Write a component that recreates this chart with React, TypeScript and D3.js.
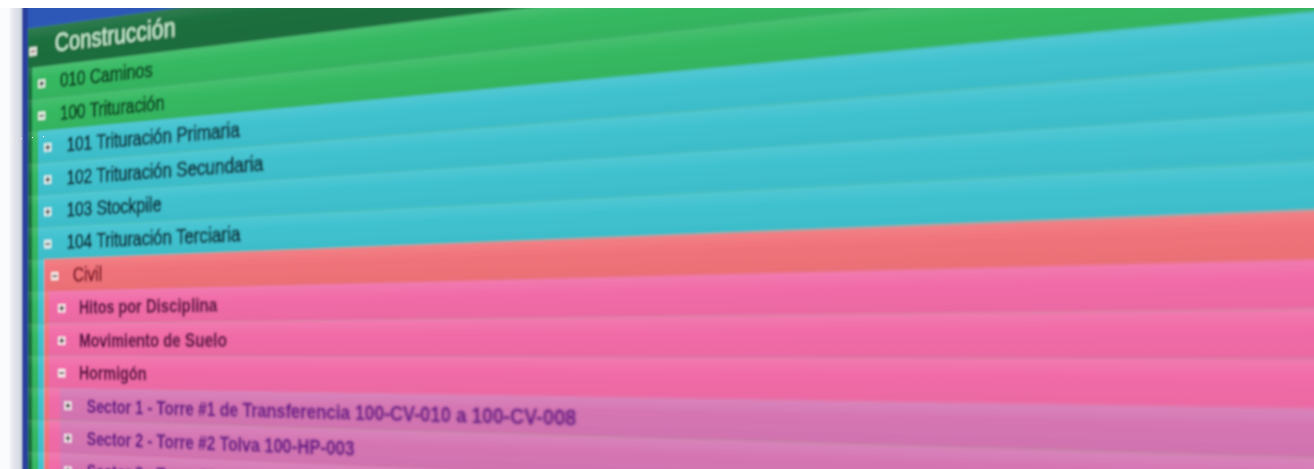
import { useEffect, useRef } from 'react';
import * as d3 from 'd3';

// Tree rows as seen on the screen (top to bottom)
const rowLabels = [
  'Construcción',
  '010 Caminos',
  '100 Trituración',
  '101 Trituración Primaria',
  '102 Trituración Secundaria',
  '103 Stockpile',
  '104 Trituración Terciaria',
  'Civil',
  'Hitos por Disciplina',
  'Movimiento de Suelo',
  'Hormigón',
  'Sector 1 - Torre #1 de Transferencia 100-CV-010 a 100-CV-008',
  'Sector 2 - Torre #2 Tolva 100-HP-003',
  'Sector 3 - Torre #3',
];
const rowDepth = [0, 1, 1, 2, 2, 2, 2, 3, 4, 4, 4, 5, 5, 5];
const rowOpen = [true, false, true, false, false, false, true, true, false, false, true, false, false, false];

const W = 1314;
const H = 469;

// the photo looks at the screen from the right: plane turned about a vertical axis
const OX = 60;
const OY = 350;
const VANISH_X = -2300;
const COS = 0.88;
const THETA = Math.acos(COS);
const PERSP = (OX - VANISH_X) * Math.tan(THETA);

const PAD = 120;
const FLAT_W = 1150;
const FLAT_H = 520;

const depthFill = ['#1b6f3e', '#36b962', '#40c2cf', '#f0737a', '#f16ca8', '#d576b3'];
const depthText = ['#c6ead0', '#0a3d1f', '#0b2631', '#7a0f23', '#560b40', '#681786'];
const depthIndent = [23, 28, 35, 42, 47.5, 60];
const iconX = [29, 39, 46, 54, 62, 69];
const textX = [54, 60, 67.5, 74.5, 81.5, 90];

export default function App() {
  const svgRef = useRef<SVGSVGElement>(null);

  useEffect(() => {
    if (!svgRef.current) return;
    const svg = d3.select(svgRef.current);
    svg.selectAll('*').remove();

    const defs = svg.append('defs');
    defs
      .append('filter')
      .attr('id', 'soft')
      .attr('x', '-2%')
      .attr('y', '-2%')
      .attr('width', '104%')
      .attr('height', '104%')
      .append('feGaussianBlur')
      .attr('stdDeviation', 0.8);

    depthFill.forEach((c, l) => {
      const g = defs
        .append('linearGradient')
        .attr('id', `row${l}`)
        .attr('x1', 0)
        .attr('y1', 0)
        .attr('x2', 0)
        .attr('y2', 1);
      g.append('stop').attr('offset', '0%').attr('stop-color', d3.interpolateRgb(c, '#ffffff')(0.1));
      g.append('stop').attr('offset', '35%').attr('stop-color', c);
      g.append('stop').attr('offset', '100%').attr('stop-color', d3.interpolateRgb(c, '#000000')(0.03));
    });

    const frame = defs.append('linearGradient').attr('id', 'frame').attr('x1', 0).attr('x2', 1).attr('y1', 0).attr('y2', 0);
    frame.append('stop').attr('offset', '0%').attr('stop-color', '#eef0f3');
    frame.append('stop').attr('offset', '100%').attr('stop-color', '#cfd4de');

    const n = rowLabels.length;
    const yCenter = d3
      .scaleLinear()
      .domain([1, n - 1])
      .range([80.5, 80.5 + 32.4 * (n - 2)]);
    const rowTop = (i: number) => (i === 0 ? 24 : yCenter(i) - 16.2);
    const rowBottom = (i: number) => (i === 0 ? yCenter(1) - 16.2 : yCenter(i) + 16.2);
    const rowMid = (i: number) => (i === 0 ? 43 : yCenter(i));

    const root = svg
      .append('g')
      .attr('transform', `translate(${PAD},${PAD})`)
      .attr('filter', 'url(#soft)');

    // window frame on the left and above the tree
    root.append('rect').attr('x', -PAD).attr('y', -PAD).attr('width', FLAT_W + PAD).attr('height', FLAT_H + 2 * PAD).attr('fill', '#fafbfc');
    root.append('rect').attr('x', 2).attr('y', -PAD).attr('width', 14).attr('height', FLAT_H + 2 * PAD).attr('fill', 'url(#frame)');
    root.append('rect').attr('x', 16).attr('y', -PAD).attr('width', FLAT_W).attr('height', FLAT_H + 2 * PAD).attr('fill', '#2b3f9e');
    root.append('rect').attr('x', 23).attr('y', -PAD).attr('width', FLAT_W).attr('height', PAD + 24).attr('fill', '#2f58b8');

    // row backgrounds, parents' colours stay visible as strips on the left
    const rows = root
      .selectAll('g.row')
      .data(d3.range(n))
      .enter()
      .append('g')
      .attr('class', 'row');

    rows.each(function (i) {
      const g = d3.select(this);
      const levels = d3.range(rowDepth[i] + 1);
      g.selectAll('rect')
        .data(levels)
        .enter()
        .append('rect')
        .attr('x', (l) => depthIndent[l])
        .attr('y', rowTop(i))
        .attr('width', (l) => FLAT_W - depthIndent[l])
        .attr('height', rowBottom(i) - rowTop(i) + 0.5)
        .attr('fill', (l) => `url(#row${l})`);
    });

    // expand / collapse boxes
    rows.each(function (i) {
      const g = d3.select(this);
      const d = rowDepth[i];
      const cx = iconX[d];
      const cy = rowMid(i) + (i === 0 ? 5 : 1);
      const s = i === 0 ? 9 : 8.5;
      g.append('rect')
        .attr('x', cx - s / 2)
        .attr('y', cy - s / 2)
        .attr('width', s)
        .attr('height', s)
        .attr('fill', '#f5f5f2')
        .attr('opacity', 0.9);
      const sign = i === 0 ? '#a33a3a' : '#2a2a2a';
      g.append('line')
        .attr('x1', cx - 2.6)
        .attr('x2', cx + 2.6)
        .attr('y1', cy)
        .attr('y2', cy)
        .attr('stroke', sign)
        .attr('stroke-width', 1.7);
      if (!rowOpen[i]) {
        g.append('line')
          .attr('x1', cx)
          .attr('x2', cx)
          .attr('y1', cy - 2.6)
          .attr('y2', cy + 2.6)
          .attr('stroke', sign)
          .attr('stroke-width', 1.7);
      }
    });

    // labels
    rows
      .append('text')
      .attr('transform', (i) => {
        const d = rowDepth[i];
        const sx = d === 0 ? 0.9 : d >= 4 ? 0.82 : 0.86;
        return `translate(${textX[d]},${rowMid(i)}) scale(${sx},1)`;
      })
      .attr('dominant-baseline', 'central')
      .attr('font-family', "'Liberation Sans', Arial, sans-serif")
      .attr('font-size', (i) => (rowDepth[i] === 0 ? 25 : rowDepth[i] >= 4 ? 19 : 20))
      .attr('font-weight', (i) => (rowDepth[i] >= 4 ? 'bold' : 'normal'))
      .attr('fill', (i) => depthText[rowDepth[i]])
      .attr('stroke', (i) => depthText[rowDepth[i]])
      .attr('stroke-width', (i) => (rowDepth[i] >= 1 && rowDepth[i] <= 3 ? 0.7 : 0.3))
      .text((i) => rowLabels[i]);
  }, []);

  return (
    <div style={{ position: 'fixed', left: 0, top: 0, width: W, height: H, overflow: 'hidden', background: '#ffffff' }}>
      <div
        style={{
          position: 'absolute',
          left: -PAD,
          top: -PAD,
          transformOrigin: `${PAD + OX}px ${PAD + OY}px`,
          transform: `perspective(${PERSP}px) rotateY(${(-THETA * 180) / Math.PI}deg)`,
        }}
      >
        <svg ref={svgRef} width={PAD + FLAT_W} height={FLAT_H + 2 * PAD} style={{ display: 'block' }} />
      </div>
      <svg width={W} height={H} style={{ position: 'absolute', left: 0, top: 0 }}>
        <rect x={0} y={0} width={W} height={8} fill="#ffffff" />
      </svg>
    </div>
  );
}
